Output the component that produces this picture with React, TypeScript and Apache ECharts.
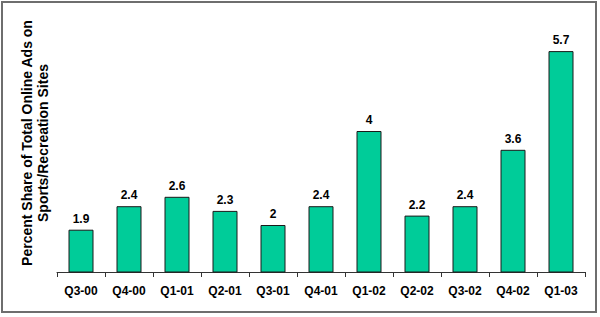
import React, { useEffect, useRef } from "react";
import * as echarts from "echarts";

const categories = ["Q3-00", "Q4-00", "Q1-01", "Q2-01", "Q3-01", "Q4-01", "Q1-02", "Q2-02", "Q3-02", "Q4-02", "Q1-03"];
const shares = [1.9, 2.4, 2.6, 2.3, 2, 2.4, 4, 2.2, 2.4, 3.6, 5.7];
const yTitle = ["Percent Share of Total Online Ads on", "Sports/Recreation Sites"];

export default function App() {
  const ref = useRef<HTMLDivElement>(null);
  useEffect(() => {
    if (!ref.current) return;
    const chart = echarts.init(ref.current, null, { renderer: "svg" });
    const titleEls = yTitle.map((t, i) => ({
      type: "text",
      x: 27 + i * 16,
      y: 143,
      rotation: Math.PI / 2,
      style: {
        text: t,
        fill: "#000",
        font: "bold 14px 'Liberation Sans', Arial, sans-serif",
        align: "center",
        verticalAlign: "middle",
      },
    }));
    chart.setOption({
      animation: false,
      backgroundColor: "#ffffff",
      textStyle: { fontFamily: "Liberation Sans, Arial, sans-serif" },
      grid: { left: 57, right: 15, top: 37, bottom: 45 },
      graphic: [
        {
          type: "rect",
          shape: { x: 2, y: 2, width: 594, height: 310 },
          style: { fill: "none", stroke: "#6e6e6e", lineWidth: 2 },
          silent: true,
        },
        ...titleEls,
      ],
      xAxis: {
        type: "category",
        data: categories,
        axisLine: { show: true, lineStyle: { color: "#333", width: 1 } },
        axisTick: { show: true, length: 5, lineStyle: { color: "#333" } },
        axisLabel: {
          color: "#000",
          fontWeight: "bold",
          fontSize: 12,
          margin: 13,
          fontFamily: "Liberation Sans, Arial, sans-serif",
        },
      },
      yAxis: {
        type: "value",
        min: 1,
        max: 6,
        show: false,
        splitLine: { show: false },
      },
      series: [
        {
          type: "bar",
          data: shares,
          barWidth: 25,
          itemStyle: { color: "#00CC99", borderColor: "#1a1a1a", borderWidth: 1 },
          label: {
            show: true,
            position: "top",
            distance: 5,
            color: "#000",
            fontWeight: "bold",
            fontSize: 12,
            fontFamily: "Liberation Sans, Arial, sans-serif",
          },
        },
      ],
    });
    return () => chart.dispose();
  }, []);
  return <div ref={ref} style={{ width: 600, height: 317, position: "absolute", left: 0, top: 0 }} />;
}
